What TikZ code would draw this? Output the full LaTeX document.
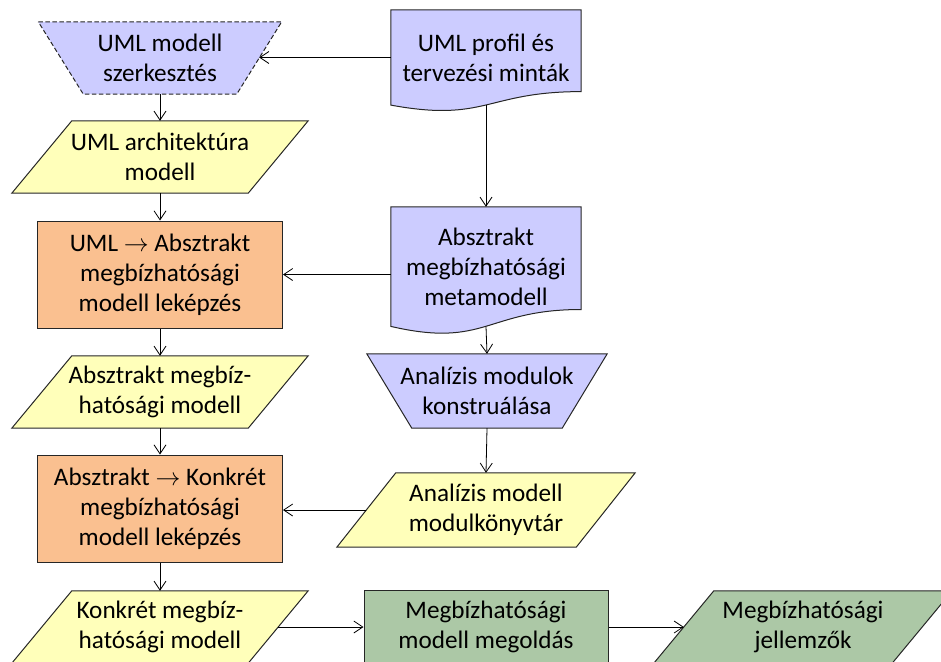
\documentclass[tikz,border=0pt]{standalone}
\usepackage{fontspec}
\setmainfont{Carlito}
\usetikzlibrary{arrows.meta,backgrounds,calc}
\definecolor{lav}{HTML}{CCCCFF}
\definecolor{yel}{HTML}{FFFFBA}
\definecolor{ora}{HTML}{FAC090}
\definecolor{grn}{HTML}{ACC8A6}
\definecolor{edgecol}{HTML}{262626}
\newcommand{\shapepara}[3]{\path[shapeedge, fill=#3] ($(#1.north west)+(#2,0)$) -- ($(#1.north east)+(#2,0)$) -- ($(#1.south east)-(#2,0)$) -- ($(#1.south west)-(#2,0)$) -- cycle;}
\newcommand{\shapetrap}[4]{\path[shapeedge, fill=#3, #4] ($(#1.north west)-(#2,0)$) -- ($(#1.north east)+(#2,0)$) -- ($(#1.south east)-(#2,0)$) -- ($(#1.south west)+(#2,0)$) -- cycle;}
% #1 node, #2 right end, #3 control depth, #4 left end, #5 half width
\newcommand{\shapedoc}[5]{\path[shapeedge, fill=lav] (#1.north west) -- (#1.north east) -- ($(#1.north east)+(0,#2)$) .. controls ($(#1.north east)+(-#5,#2)$) and ($(#1.north east)+(-#5,#3)$) .. ($(#1.north west)+(0,#4)$) -- cycle;}
\begin{document}
\begin{tikzpicture}[x=1pt,y=-1pt,
  font=\fontsize{25.2}{30}\selectfont,
  box/.style={align=center, inner sep=0pt, draw=none},
  rectbox/.style={align=center, inner sep=0pt, draw=edgecol, line width=1pt},
  shapeedge/.style={draw=edgecol, line width=1pt, line join=miter},
  arr/.style={-{Straight Barb[length=9pt,width=12pt]}, line width=0.8pt, draw=black}]
\useasboundingbox (0,0) rectangle (941,661);
\clip (0,0) rectangle (941,661);

% left column
\node[box, minimum width=198pt, minimum height=72pt] (t1) at (160,58) {UML modell\\szerkesztés};
\node[box, minimum width=236pt, minimum height=72pt] (p1) at (160,157) {UML architektúra\\modell};
\node[rectbox, fill=ora, minimum width=245pt, minimum height=107pt] (r1) at (160,274.5) {UML $\rightarrow$ Absztrakt\\megbízhatósági\\modell leképzés};
\node[box, minimum width=236pt, minimum height=72pt] (p2) at (160,392) {Absztrakt megbíz-\\hatósági modell};
\node[rectbox, fill=ora, minimum width=245pt, minimum height=107pt] (r2) at (160,508.5) {Absztrakt $\rightarrow$ Konkrét\\megbízhatósági\\modell leképzés};
\node[box, minimum width=236pt, minimum height=72pt] (p3) at (160,627) {Konkrét megbíz-\\hatósági modell};

% right column
\node[box, minimum width=190pt, minimum height=95pt] (d1) at (486,57.5) {UML profil és\\tervezési minták};
\node[box, minimum width=190pt, minimum height=119.4pt] (d2) at (486,266.7) {Absztrakt\\megbízhatósági\\metamodell};
\node[box, minimum width=195pt, minimum height=74pt] (t2) at (487,391) {Analízis modulok\\konstruálása};
\node[box, minimum width=239pt, minimum height=74pt] (p4) at (486,510) {Analízis modell\\modulkönyvtár};

% bottom row
\node[rectbox, fill=grn, minimum width=244pt, minimum height=74pt] (g1) at (486,627) {Megbízhatósági\\modell megoldás};
\node[box, minimum width=238pt, minimum height=72pt] (g2) at (803,627) {Megbízhatósági\\jellemzők};

\begin{scope}[on background layer]
  \shapetrap{t1}{22.5}{lav}{dash pattern=on 4.5pt off 2.5pt}
  \shapepara{p1}{30}{yel}
  \shapepara{p2}{30}{yel}
  \shapepara{p3}{30}{yel}
  \shapedoc{d1}{81.8}{112.9}{95.3}{95}
  \shapedoc{d2}{102.7}{141.7}{119.6}{95}
  \shapetrap{t2}{22.5}{lav}{}
  \shapepara{p4}{29.5}{yel}
  \shapepara{g2}{30}{grn}
\end{scope}

% connectors
\draw[arr] (t1.south) -- (p1.north);
\draw[arr] (p1.south) -- (r1.north);
\draw[arr] (r1.south) -- (p2.north);
\draw[arr] (p2.south) -- (r2.north);
\draw[arr] (r2.south) -- (p3.north);
\draw[arr] (d1.west) -- (d1.west -| t1.east);
\draw[arr] (d1.south) -- (d2.north);
\draw[arr] (d2.west |- r1.east) -- (r1.east);
\draw[arr] (d2.south) -- (t2.north);
\draw[arr] (t2.south) -- (p4.north);
\draw[arr] (p4.west) -- (p4.west -| r2.east);
\draw[arr] (p3.east) -- (g1.west);
\draw[arr] (g1.east) -- (g2.west);
\end{tikzpicture}
\end{document}
